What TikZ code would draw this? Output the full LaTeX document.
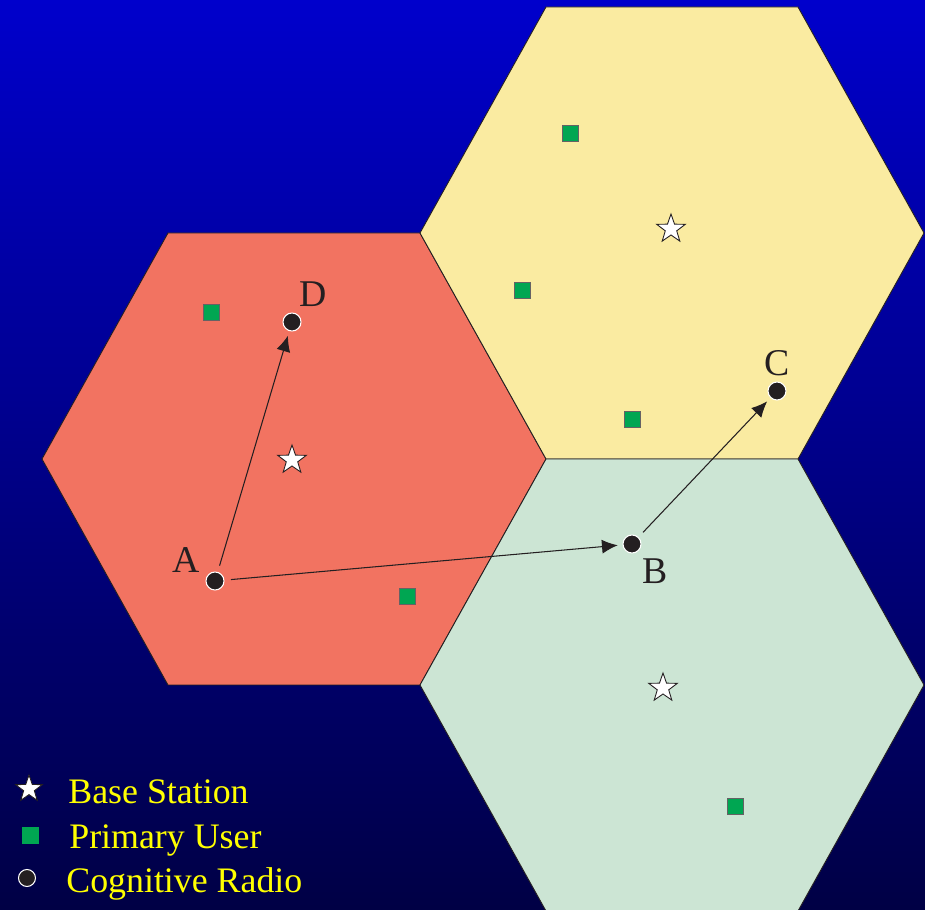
\documentclass[tikz,border=0pt]{standalone}
\usepackage{fontspec}
\setmainfont{Liberation Serif}
\usepackage{tikz-network}
\usetikzlibrary{arrows,arrows.meta,shapes}

\begin{document}
\begin{tikzpicture}
	\definecolor{bgtop}{rgb}{0., 0., 0.8}
	\definecolor{bgbot}{rgb}{0., 0., 0.27}
	\definecolor{cellred}{rgb}{0.95, 0.45, 0.38}
	\definecolor{cellyellow}{rgb}{0.98, 0.92, 0.63}
	\definecolor{cellgreen}{rgb}{0.8, 0.9, 0.83}
	\definecolor{pugreen}{rgb}{0., 0.65, 0.32}
	\definecolor{crblack}{rgb}{0.14, 0.12, 0.13}
	\definecolor{legendyellow}{rgb}{1., 1., 0.}
	\tikzset{
		cell/.style={draw=crblack, line width=0.5pt},
		basestation/.style={star, star points=5, star point ratio=2.5, draw=crblack, fill=white, line width=0.5pt, minimum size=0.6cm, inner sep=0pt},
		primaryuser/.style={rectangle, draw=crblack!70, fill=pugreen, line width=0.5pt, minimum size=0.32cm, inner sep=0pt},
		legendtext/.style={anchor=base west, text=legendyellow, inner sep=0pt, font=\fontsize{20.4}{23}\selectfont},
		link/.style={-{Latex[length=9pt,width=8pt]}, shorten <=4pt, shorten >=3pt}
	}
	\SetVertexStyle[FillColor=crblack, LineColor=white, MinSize=0.36cm, LineWidth=0.6pt, Shape=circle, TextFont=\fontsize{21.5}{24}\selectfont, TextColor=crblack]
	\SetEdgeStyle[LineWidth=0.6, Color=crblack]
	%% Background ----
	\useasboundingbox (0,0) rectangle (18.5,18.18);
	\shade[top color=bgtop, bottom color=bgbot] (0,0) rectangle (18.5,18.18);
	%% Cells ---------
	\foreach \cx/\cy/\col in {5.88/9.00/cellred, 13.44/13.52/cellyellow, 13.44/4.48/cellgreen}
		\draw[cell, fill=\col] (\cx,\cy) ++(5.04,0) -- ++(-2.52,4.52) -- ++(-5.04,0) -- ++(-2.52,-4.52) -- ++(2.52,-4.52) -- ++(5.04,0) -- cycle;
	%% Base stations -
	\node[basestation] (bs1) at (5.84,8.98) {};
	\node[basestation] (bs2) at (13.42,13.60) {};
	\node[basestation] (bs3) at (13.26,4.42) {};
	%% Primary users -
	\foreach \i/\px/\py in {1/4.22/11.94, 2/11.40/15.52, 3/10.44/12.38, 4/12.64/9.80, 5/8.14/6.26, 6/14.70/2.06}
		\node[primaryuser] (pu\i) at (\px,\py) {};
	%% Cognitive radios
	\Vertex[x=4.30, y=6.56, label=A, position=165, distance=0.35]{A}
	\Vertex[x=5.84, y=11.74, label=D, position=84, distance=0.15]{D}
	\Vertex[x=12.64, y=7.30, label=B, position=-65, distance=0.1]{B}
	\Vertex[x=15.54, y=10.36, label=C, position=88, distance=0.2]{C}
	%% Edges ---------
	\Edge[NotInBG, style={link}](A)(D)
	\Edge[NotInBG, style={link}](A)(B)
	\Edge[NotInBG, style={link}](B)(C)
	%% Legend --------
	\node[basestation, minimum size=0.56cm] (keybs) at (0.58,2.40) {};
	\node[primaryuser, draw=none, minimum size=0.34cm] (keypu) at (0.60,1.48) {};
	\node[circle, fill=crblack, draw=white, line width=0.6pt, minimum size=0.34cm, inner sep=0pt] (keycr) at (0.54,0.62) {};
	\node[legendtext] (keybstext) at (1.36,2.12) {Base Station};
	\node[legendtext] (keyputext) at (1.38,1.22) {Primary User};
	\node[legendtext] (keycrtext) at (1.32,0.34) {Cognitive Radio};
\end{tikzpicture}
\end{document}
